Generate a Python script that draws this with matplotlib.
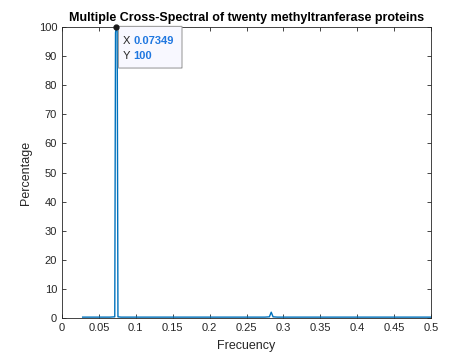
import matplotlib
matplotlib.use("Agg")
import matplotlib.pyplot as plt
from matplotlib.patches import FancyBboxPatch

plt.rcParams['font.family'] = ['Liberation Sans', 'DejaVu Sans']

freq = [0.028, 0.040, 0.055, 0.065, 0.0715, 0.0725, 0.07349, 0.0748, 0.0758, 0.080,
        0.100, 0.150, 0.200, 0.250, 0.275, 0.281, 0.2835, 0.286, 0.292, 0.350,
        0.400, 0.450, 0.500]
pct = [0.3, 0.3, 0.3, 0.3, 0.4, 98.0, 100.0, 98.5, 0.4, 0.3,
       0.3, 0.3, 0.3, 0.3, 0.3, 0.4, 2.0, 0.4, 0.3, 0.3,
       0.3, 0.3, 0.3]
tip_x, tip_y = 0.07349, 100

xticks = [0, 0.05, 0.1, 0.15, 0.2, 0.25, 0.3, 0.35, 0.4, 0.45, 0.5]
xticklabels = ['0', '0.05', '0.1', '0.15', '0.2', '0.25', '0.3', '0.35', '0.4', '0.45', '0.5']
yticks = list(range(0, 101, 10))

axcol = '#262626'
fig = plt.figure(figsize=(4.76, 3.57), dpi=100)
ax = fig.add_axes([62/476, 1 - 318/357, (431-62)/476, (318-27)/357])
ax.plot(freq, pct, color='#0072BD', lw=1.0)
ax.set_xlim(0, 0.5)
ax.set_ylim(0, 100)
ax.set_xticks(xticks)
ax.set_xticklabels(xticklabels)
ax.set_yticks(yticks)
ax.tick_params(direction='in', length=3, width=0.6, colors=axcol, labelsize=8, top=True, right=True,
               labeltop=False, labelright=False)
for s in ax.spines.values():
    s.set_color(axcol)
    s.set_linewidth(0.6)
ax.set_xlabel('Frecuency', fontsize=9, color=axcol, labelpad=5)
ax.set_ylabel('Percentage', fontsize=9, color=axcol, labelpad=5)
ax.set_title('Multiple Cross-Spectral of twenty methyltranferase proteins', fontsize=9,
             fontweight='bold', color='black', pad=4)

ax.plot([tip_x], [tip_y], 'o', color='#1a1a1a', ms=3.5, clip_on=False, zorder=5)
box = FancyBboxPatch((0.0765, 85.9), 0.0861, 14.3, boxstyle='round,pad=0,rounding_size=0.002',
                     transform=ax.transData, facecolor='#f8f8ff', edgecolor='#a0a0a0', lw=0.8,
                     zorder=4, clip_on=False)
ax.add_patch(box)
ax.text(0.0822, 95.2, 'X', fontsize=8, color=axcol, va='center', ha='left', zorder=6)
ax.text(0.0970, 95.2, f'{tip_x:.5f}'.rstrip('0'), fontsize=8, color='#1f77e0', fontweight='bold',
        va='center', ha='left', zorder=6)
ax.text(0.0822, 90.0, 'Y', fontsize=8, color=axcol, va='center', ha='left', zorder=6)
ax.text(0.0970, 90.0, f'{tip_y}', fontsize=8, color='#1f77e0', fontweight='bold',
        va='center', ha='left', zorder=6)

fig.savefig('out.png', dpi=100)
